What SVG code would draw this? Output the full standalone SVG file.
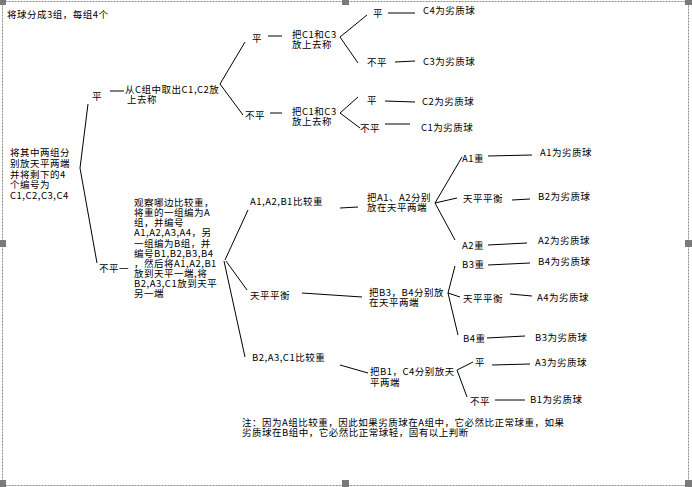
<svg xmlns="http://www.w3.org/2000/svg" width="692" height="487" viewBox="0 0 692 487">
<style>
text{font-family:"Noto Sans CJK SC","Noto Sans",sans-serif;font-size:9.5px;letter-spacing:0.5px;fill:#000}
.c line,.c polyline{stroke:#000;stroke-width:1;fill:none}
.frame{fill:none;stroke:#8a8a8a;stroke-width:1;stroke-dasharray:2 1}
.h{fill:#7a7a7a}
</style>
<rect width="692" height="487" fill="#fff"/>
<g id="frame">
<rect class="frame" x="2.5" y="1.5" width="686" height="484"/>
<rect class="h" x="0" y="0" width="6" height="5"/>
<rect class="h" x="342" y="0" width="7" height="5"/>
<rect class="h" x="685" y="0" width="7" height="5"/>
<rect class="h" x="0" y="240" width="6" height="7"/>
<rect class="h" x="685" y="240" width="7" height="7"/>
<rect class="h" x="0" y="480" width="6" height="7"/>
<rect class="h" x="342" y="480" width="7" height="7"/>
<rect class="h" x="685" y="480" width="7" height="7"/>
</g>
<g class="c" id="connectors">
<polyline points="88,104 80,168 97,263"/>
<line x1="110" y1="91" x2="124" y2="91"/>
<polyline points="245,42 220,84 243,115"/>
<line x1="268" y1="36" x2="282" y2="36"/>
<line x1="270" y1="113" x2="282" y2="113"/>
<polyline points="367,15 340,37 358,63"/>
<polyline points="358,97 340,113 360,128"/>
<line x1="388" y1="13" x2="415" y2="13"/>
<line x1="395" y1="62" x2="415" y2="61"/>
<line x1="385" y1="101" x2="415" y2="102"/>
<line x1="385" y1="124" x2="410" y2="124"/>
<line x1="225" y1="260" x2="248" y2="210"/>
<line x1="226" y1="261" x2="247" y2="290"/>
<line x1="224" y1="261" x2="245" y2="357"/>
<line x1="340" y1="208" x2="358" y2="207"/>
<line x1="302" y1="293" x2="362" y2="297"/>
<line x1="340" y1="365" x2="368" y2="373"/>
<polyline points="462,157 435,203 455,240"/>
<line x1="435" y1="203" x2="457" y2="198"/>
<polyline points="455,266 448,293 458,335"/>
<line x1="448" y1="293" x2="460" y2="297"/>
<polyline points="473,362 457,370 467,397"/>
<line x1="488" y1="156" x2="532" y2="155"/>
<line x1="512" y1="200" x2="530" y2="199"/>
<line x1="488" y1="245" x2="527" y2="243"/>
<line x1="488" y1="265" x2="530" y2="263"/>
<line x1="510" y1="294" x2="532" y2="296"/>
<line x1="487" y1="338" x2="525" y2="336"/>
<line x1="492" y1="365" x2="530" y2="364"/>
<line x1="495" y1="400" x2="525" y2="400"/>
</g>
<g id="title"><text x="7" y="18">将球分成3组，每组4个</text></g>
<g id="start">
<text x="10" y="156">将其中两组分</text>
<text x="10" y="167">别放天平两端</text>
<text x="10" y="178">并将剩下的4</text>
<text x="10" y="188">个编号为</text>
<text x="10" y="199">C1,C2,C3,C4</text>
</g>
<g id="eq1"><text x="92" y="100">平</text></g>
<g id="takeC"><text x="125" y="93">从C组中取出C1,C2放</text><text x="127" y="103">上去称</text></g>
<g id="neq1"><text x="99" y="272">不平一</text></g>
<g id="observe">
<text x="134" y="206">观察哪边比较重，</text>
<text x="134" y="216">将重的一组编为A</text>
<text x="134" y="226">组，并编号</text>
<text x="134" y="236">A1,A2,A3,A4，另</text>
<text x="134" y="247">一组编为B组，并</text>
<text x="134" y="257">编号B1,B2,B3,B4</text>
<text x="134" y="267">，然后将A1,A2,B1</text>
<text x="134" y="277">放到天平一端,将</text>
<text x="134" y="287">B2,A3,C1放到天平</text>
<text x="134" y="297">另一端</text>
</g>
<g id="c-eq"><text x="252" y="42">平</text></g>
<g id="c-neq"><text x="245" y="119">不平</text></g>
<g id="weigh1"><text x="292" y="38">把C1和C3</text><text x="292" y="48">放上去称</text></g>
<g id="weigh2"><text x="292" y="115">把C1和C3</text><text x="292" y="125">放上去称</text></g>
<g id="w1-eq"><text x="373" y="17">平</text></g>
<g id="w1-neq"><text x="367" y="66">不平</text></g>
<g id="w2-eq"><text x="367" y="104">平</text></g>
<g id="w2-neq"><text x="360" y="132">不平</text></g>
<g id="r-c4"><text x="423" y="14">C4为劣质球</text></g>
<g id="r-c3"><text x="423" y="65">C3为劣质球</text></g>
<g id="r-c2"><text x="422" y="105">C2为劣质球</text></g>
<g id="r-c1"><text x="421" y="131">C1为劣质球</text></g>
<g id="a-heavy"><text x="250" y="205">A1,A2,B1比较重</text></g>
<g id="balanced"><text x="250" y="299">天平平衡</text></g>
<g id="b-heavy"><text x="252" y="361">B2,A3,C1比较重</text></g>
<g id="wa"><text x="367" y="201">把A1、A2分别</text><text x="367" y="211">放在天平两端</text></g>
<g id="wb"><text x="369" y="296">把B3，B4分别放</text><text x="369" y="306">在天平两端</text></g>
<g id="wc"><text x="370" y="375">把B1，C4分别放天</text><text x="370" y="386">平两端</text></g>
<g id="a1h"><text x="462" y="162">A1重</text></g>
<g id="abal"><text x="463" y="202">天平平衡</text></g>
<g id="a2h"><text x="462" y="249">A2重</text></g>
<g id="b3h"><text x="462" y="268">B3重</text></g>
<g id="bbal"><text x="463" y="302">天平平衡</text></g>
<g id="b4h"><text x="463" y="342">B4重</text></g>
<g id="c-eq2"><text x="475" y="366">平</text></g>
<g id="c-neq2"><text x="470" y="405">不平</text></g>
<g id="r-a1"><text x="540" y="156">A1为劣质球</text></g>
<g id="r-b2"><text x="538" y="200">B2为劣质球</text></g>
<g id="r-a2"><text x="538" y="244">A2为劣质球</text></g>
<g id="r-b4"><text x="538" y="265">B4为劣质球</text></g>
<g id="r-a4"><text x="537" y="301">A4为劣质球</text></g>
<g id="r-b3"><text x="535" y="341">B3为劣质球</text></g>
<g id="r-a3"><text x="535" y="366">A3为劣质球</text></g>
<g id="r-b1"><text x="530" y="403">B1为劣质球</text></g>
<g id="note">
<text x="242" y="426">注：因为A组比较重，因此如果劣质球在A组中，它必然比正常球重，如果</text>
<text x="242" y="436">劣质球在B组中，它必然比正常球轻，固有以上判断</text>
</g>
</svg>
